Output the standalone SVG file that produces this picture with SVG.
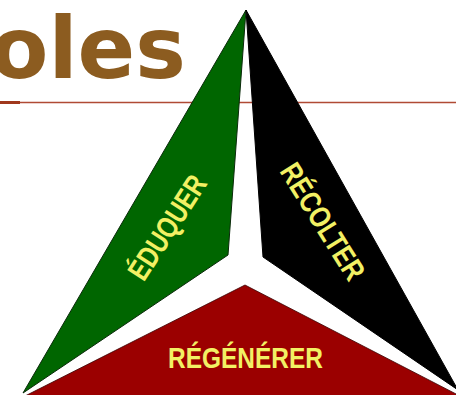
<svg xmlns="http://www.w3.org/2000/svg" width="456" height="395" viewBox="0 0 456 395">
<style>
.lbl{font-family:"Liberation Sans",Arial,sans-serif;font-weight:bold;fill:#F2F064;font-size:30px}
.title{font-family:"DejaVu Sans",sans-serif;font-weight:bold;fill:#8C5C20;font-size:85px}
</style>
<rect width="456" height="395" fill="#fff"/>
<text class="title" x="-10" y="78">oles</text>
<g id="rule">
<line x1="20" y1="102.5" x2="456" y2="102.5" stroke="#B04A34" stroke-width="1.5"/>
<line x1="0" y1="102.5" x2="20" y2="102.5" stroke="#A0381C" stroke-width="3"/>
</g>
<g id="eduquer">
<polygon points="246,10 228,255 23,393" fill="#006600" stroke="#0a2a0a" stroke-width="1"/>
<text class="lbl" transform="translate(176,233) rotate(-57)" text-anchor="middle" textLength="118" lengthAdjust="spacingAndGlyphs">ÉDUQUER</text>
</g>
<g id="recolter">
<polygon points="246,10 263,257 458,390" fill="#000" stroke="#000" stroke-width="1"/>
<text class="lbl" transform="translate(314,227) rotate(58)" text-anchor="middle" textLength="132" lengthAdjust="spacingAndGlyphs">RÉCOLTER</text>
</g>
<g id="regenerer">
<polygon points="245,285 25,396 458,396 458,395" fill="#9B0000" stroke="#3a0000" stroke-width="0.8"/>
<text class="lbl" x="245.5" y="368" font-size="30" text-anchor="middle" textLength="155" lengthAdjust="spacingAndGlyphs">RÉGÉNÉRER</text>
</g>
</svg>
